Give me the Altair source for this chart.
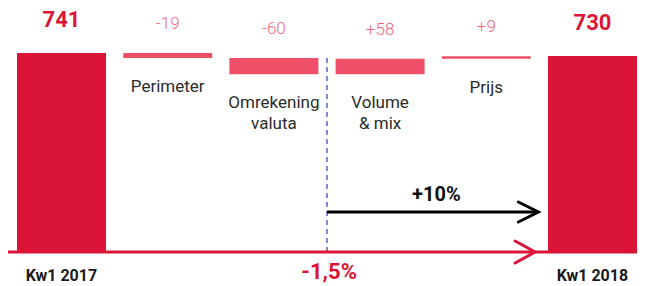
import altair as alt
import pandas as pd

# ---- data ----
categories = ["Kw1 2017", "Perimeter", "Omrekening\nvaluta", "Volume\n& mix", "Prijs", "Kw1 2018"]
amounts = [741, -19, -60, 58, 9, 730]
amount_labels = ["741", "-19", "-60", "+58", "+9", "730"]
is_total = [True, False, False, False, False, True]

organic_label = "+10%"
reported_label = "-1,5%"
split_at = 2.5          # between currency effect and volume/mix
organic_level = 149     # height of organic-growth arrow (value units)
organic_end = 4.49
reported_end = 4.46
label_mid = 3.53
reported_mid = 2.52
dash_top = 733
span = [-0.5038, 5.419]

# ---- build waterfall table ----
rows = []
running = 0
for i, (c, a, lab, tot) in enumerate(zip(categories, amounts, amount_labels, is_total)):
    if tot:
        lo, hi = 0, a
        running = a
    else:
        start = running
        running = running + a
        lo, hi = min(start, running), max(start, running)
    rows.append(dict(idx=i, cat=c, lo=lo, hi=hi, label=lab, total=tot,
                     x0=i - 0.419, x1=i + 0.419))
df = pd.DataFrame(rows)

W, H = 629, 278
xs = alt.Scale(domain=span, nice=False, zero=False)
ys = alt.Scale(domain=[-126.6, 908.6], nice=False, zero=False)
FONT = "Roboto"
RED = "#db1537"
PINK = "#ef4f69"

base = alt.Chart(df)

bars_total = base.transform_filter("datum.total").mark_bar(color=RED).encode(
    x=alt.X("x0:Q", scale=xs, axis=None), x2="x1:Q",
    y=alt.Y("lo:Q", scale=ys, axis=None), y2="hi:Q")
bars_change = base.transform_filter("!datum.total").mark_bar(color=PINK).encode(
    x=alt.X("x0:Q", scale=xs, axis=None), x2="x1:Q",
    y=alt.Y("lo:Q", scale=ys, axis=None), y2="hi:Q")

val_total = base.transform_filter("datum.total").mark_text(
    font=FONT, fontSize=22, fontWeight="bold", color=RED, baseline="alphabetic", dy=-26
).encode(x=alt.X("idx:Q", scale=xs), y=alt.Y("hi:Q", scale=ys), text="label:N")
val_change = base.transform_filter("!datum.total").mark_text(
    font=FONT, fontSize=17, fontWeight=300, color="#f0667c", baseline="alphabetic", dy=-24
).encode(x=alt.X("idx:Q", scale=xs), y=alt.Y("hi:Q", scale=ys), text="label:N")

cat_change = base.transform_filter("!datum.total").mark_text(
    font=FONT, fontSize=17, color="#2b2b2b", baseline="alphabetic", dy=34,
    lineBreak="\n", lineHeight=21
).encode(x=alt.X("idx:Q", scale=xs), y=alt.Y("lo:Q", scale=ys), text="cat:N")
cat_total = base.transform_filter("datum.total").mark_text(
    font=FONT, fontSize=16, fontWeight="bold", color="#1a1a1a", baseline="alphabetic", dy=29
).encode(x=alt.X("idx:Q", scale=xs), y=alt.Y("lo:Q", scale=ys), text="cat:N")

ann = pd.DataFrame([dict(
    split=split_at, top=dash_top, zero=0, level=organic_level,
    oend=organic_end, rend=reported_end, s0=span[0], s1=span[1],
    olab=organic_label, rlab=reported_label, omid=label_mid, rmid=reported_mid)])
a = alt.Chart(ann)

dashed = a.mark_rule(color="#5468c0", strokeWidth=1.5, strokeDash=[5, 4]).encode(
    x=alt.X("split:Q", scale=xs), y=alt.Y("zero:Q", scale=ys), y2="top:Q")
baseline = a.mark_rule(color=RED, strokeWidth=3).encode(
    x=alt.X("s0:Q", scale=xs), x2="s1:Q", y=alt.Y("zero:Q", scale=ys))
red_head = a.mark_point(shape="M-1.82,-1L0,0L-1.82,1", size=484, filled=False,
                        color=RED, strokeWidth=3, strokeCap="round", opacity=1).encode(
    x=alt.X("rend:Q", scale=xs), y=alt.Y("zero:Q", scale=ys))
black_line = a.mark_rule(color="#000000", strokeWidth=3).encode(
    x=alt.X("split:Q", scale=xs), x2="oend:Q", y=alt.Y("level:Q", scale=ys))
black_head = a.mark_point(shape="M-2,-1L0,0L-2,1", size=400, filled=False,
                          color="#000000", strokeWidth=3, strokeCap="round", opacity=1).encode(
    x=alt.X("oend:Q", scale=xs), y=alt.Y("level:Q", scale=ys))
olab = a.mark_text(font=FONT, fontSize=20, fontWeight="bold", color="#111111",
                   baseline="alphabetic", dy=-11).encode(
    x=alt.X("omid:Q", scale=xs), y=alt.Y("level:Q", scale=ys), text="olab:N")
rlab = a.mark_text(font=FONT, fontSize=22, fontWeight="bold", color=RED,
                   baseline="alphabetic", dy=27).encode(
    x=alt.X("rmid:Q", scale=xs), y=alt.Y("zero:Q", scale=ys), text="rlab:N")

chart = alt.layer(
    bars_total, bars_change, dashed, baseline, red_head, black_line, black_head,
    val_total, val_change, cat_change, cat_total, olab, rlab
).properties(
    width=W, height=H, padding=0, autosize=alt.AutoSizeParams(type="none")
).configure_view(stroke=None)

chart.save("out.html", embed_options={"renderer": "svg", "actions": False})
